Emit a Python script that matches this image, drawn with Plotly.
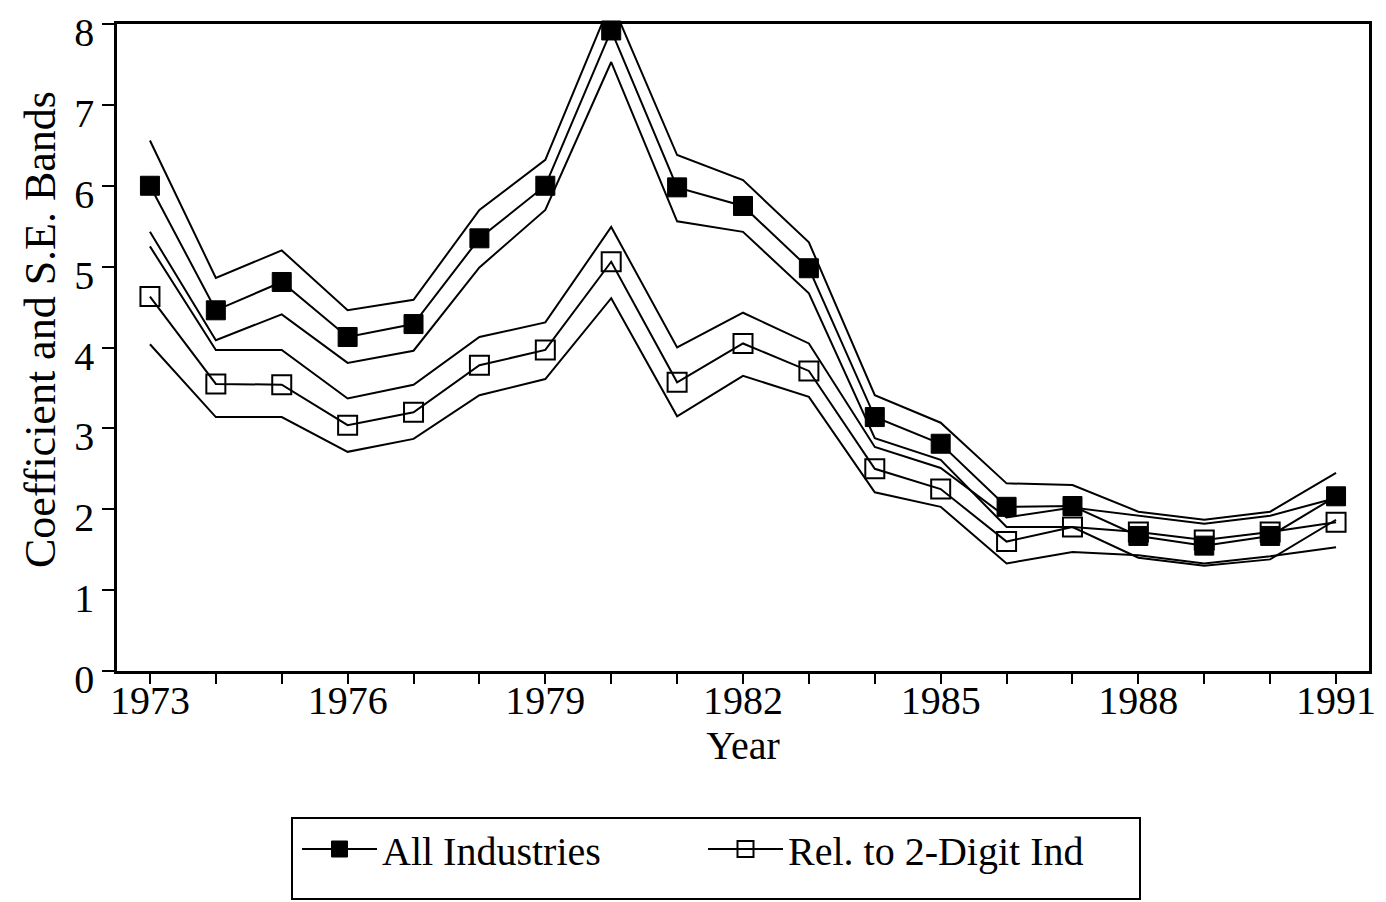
import plotly.graph_objects as go

years = list(range(1973, 1992))
year_labels = ['1973', '', '', '1976', '', '', '1979', '', '', '1982', '', '',
               '1985', '', '', '1988', '', '', '1991']

# All Industries coefficient and +/- S.E. bands
all_ind = [6.00, 4.46, 4.81, 4.13, 4.29, 5.35, 6.00, 7.92, 5.98, 5.75, 4.98,
           3.14, 2.81, 2.03, 2.04, 1.67, 1.55, 1.67, 2.16]
all_upper = [6.56, 4.86, 5.20, 4.46, 4.59, 5.70, 6.32, 8.28, 6.38, 6.07, 5.30,
             3.41, 3.07, 2.32, 2.30, 1.97, 1.87, 1.97, 2.45]
all_lower = [5.43, 4.09, 4.41, 3.81, 3.96, 4.99, 5.70, 7.53, 5.56, 5.43, 4.67,
             2.88, 2.61, 1.78, 1.78, 1.40, 1.30, 1.38, 1.87]

# Relative to 2-digit industry
rel = [4.63, 3.55, 3.54, 3.04, 3.20, 3.78, 3.97, 5.06, 3.57, 4.05, 3.71,
       2.50, 2.25, 1.60, 1.78, 1.72, 1.62, 1.72, 1.84]
rel_upper = [5.25, 3.97, 3.97, 3.37, 3.54, 4.13, 4.31, 5.49, 4.00, 4.43, 4.05,
             2.77, 2.51, 1.90, 2.02, 1.92, 1.82, 1.92, 2.14]
rel_lower = [4.04, 3.14, 3.14, 2.71, 2.87, 3.41, 3.61, 4.61, 3.15, 3.65, 3.39,
             2.21, 2.03, 1.33, 1.47, 1.43, 1.33, 1.42, 1.53]

FONT = 'Liberation Serif'
line_style = dict(color='black', width=2)

fig = go.Figure()

for band in [all_upper, all_lower, rel_upper, rel_lower]:
    fig.add_trace(go.Scatter(x=years, y=band, mode='lines', line=line_style,
                             showlegend=False, hoverinfo='skip'))

fig.add_trace(go.Scatter(
    x=years, y=all_ind, mode='lines+markers', name='All Industries',
    line=line_style, cliponaxis=False,
    marker=dict(symbol='square', size=19, color='black', line=dict(width=1, color='black'))))
fig.add_trace(go.Scatter(
    x=years, y=rel, mode='lines+markers', name='Rel. to 2-Digit Ind',
    line=line_style, cliponaxis=False,
    marker=dict(symbol='square-open', size=19, color='black', line=dict(width=2, color='black'))))

# page body has an 8px default margin, so work in page pixels and shift
W, H = 1386, 902
OFF = 8
left, right, top, bottom = 117, 1369, 24, 671
ml, mr, mt = left - OFF, W - (right - OFF), top - OFF
mb = H - (bottom - OFF)
pw, ph = W - ml - mr, H - mt - mb


def px_x(p):
    return (p - left) / pw


def px_y(p):
    return (bottom - p) / ph


fig.update_layout(
    width=W, height=H,
    margin=dict(l=ml, r=mr, t=mt, b=mb, autoexpand=False),
    paper_bgcolor='white', plot_bgcolor='white',
    font=dict(family=FONT, size=40, color='black'),
    showlegend=True,
    legend=dict(orientation='h', x=px_x(297), y=px_y(849), xanchor='left', yanchor='middle',
                bgcolor='rgba(0,0,0,0)', borderwidth=0, itemwidth=75,
                entrywidth=316, entrywidthmode='pixels',
                font=dict(family=FONT, size=40, color='black')),
    shapes=[dict(type='rect', xref='paper', yref='paper',
                 x0=px_x(292), x1=px_x(1140), y0=px_y(818), y1=px_y(899),
                 line=dict(color='black', width=2))],
    annotations=[dict(text='Coefficient and S.E. Bands', textangle=-90, showarrow=False,
                      xref='paper', yref='paper', x=px_x(40), y=px_y(330),
                      xanchor='center', yanchor='middle',
                      font=dict(family=FONT, size=44, color='black'))],
)

fig.update_xaxes(
    range=[1972.5, 1991.5], tickmode='array', tickvals=years, ticktext=year_labels,
    ticks='outside', ticklen=10, tickwidth=2, tickcolor='black',
    showline=True, linewidth=2.5, linecolor='black', mirror=True,
    showgrid=False, zeroline=False, automargin=False, ticklabelstandoff=-18,
    ticklabeloverflow='allow',
    tickfont=dict(family=FONT, size=40),
    title=dict(text='Year', font=dict(family=FONT, size=40), standoff=2),
)
fig.update_yaxes(
    range=[0, 8], tickmode='array', tickvals=list(range(0, 9)),
    ticks='outside', ticklen=12, tickwidth=2, tickcolor='black',
    showline=True, linewidth=2.5, linecolor='black', mirror=True,
    showgrid=False, zeroline=False, automargin=False, ticklabeloverflow='allow',
    ticklabelshift=8,
    tickfont=dict(family=FONT, size=40),
)

fig.write_html('out.html')
